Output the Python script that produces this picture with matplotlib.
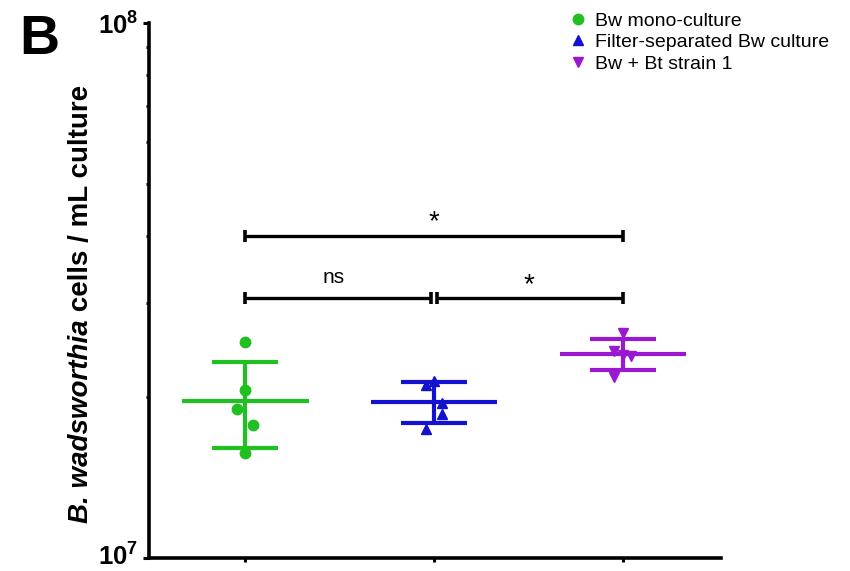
import matplotlib
matplotlib.use("Agg")
import matplotlib.pyplot as plt
from matplotlib.lines import Line2D
from matplotlib.ticker import NullFormatter
from matplotlib.transforms import ScaledTranslation
import numpy as np

plt.rcParams['font.family'] = ['Liberation Sans', 'DejaVu Sans']
plt.rcParams['mathtext.fontset'] = 'custom'
plt.rcParams['mathtext.rm'] = 'Liberation Sans'
plt.rcParams['mathtext.bf'] = 'Liberation Sans:bold'

# ---- data (cells / mL) ----
groups = ["Bw mono-culture", "Filter-separated Bw culture", "Bw + Bt strain 1"]
mono = [2.53e7, 2.06e7, 1.90e7, 1.77e7, 1.57e7]
filtered = [2.11e7, 2.14e7, 1.95e7, 1.86e7, 1.74e7]
cocult = [2.63e7, 2.44e7, 2.40e7, 2.39e7, 2.18e7]
# horizontal scatter of replicate points around each group position
mono_jit = [0.0, 0.0, -0.042, 0.042, 0.0]
filtered_jit = [-0.044, 0.0, 0.044, 0.044, -0.044]
cocult_jit = [0.0, -0.045, 0.0, 0.045, -0.045]

# significance brackets: (left group, right group, height, label)
brackets = [(1, 3, 4.0e7, "*"), (1, 2, 3.06e7, "ns"), (2, 3, 3.06e7, "*")]

colors = ["#1FC01F", "#1212D0", "#9A18D2"]
markers = ["o", "^", "v"]

W, H = 850, 571
fig = plt.figure(figsize=(W / 100, H / 100), dpi=100)
ax = fig.add_axes([149 / W, 1 - 558 / H, (721 - 149) / W, (558 - 23) / H])

series = [mono, filtered, cocult]
jitters = [mono_jit, filtered_jit, cocult_jit]
for i, (vals, jit, c, m) in enumerate(zip(series, jitters, colors, markers)):
    pos = i + 1
    vals = np.asarray(vals)
    mean = vals.mean()
    sd = vals.std(ddof=1)
    ax.hlines(mean, pos - 0.335, pos + 0.335, color=c, lw=3, zorder=2)
    ax.errorbar(pos, mean, yerr=sd, fmt='none', ecolor=c, elinewidth=3,
                capsize=23.5, capthick=3, zorder=2)
    ax.plot(pos + np.asarray(jit), vals, linestyle='none', marker=m,
            color=c, ms=7.5, zorder=3)

# brackets; neighbouring brackets at equal height leave a small gap
gap = 0.014
for x1, x2, y, lab in brackets:
    left, right = x1, x2
    for o1, o2, oy, _ in brackets:
        if oy == y and (o1, o2) != (x1, x2):
            if o2 == x1:
                left = x1 + gap
            if o1 == x2:
                right = x2 - gap
    ax.plot([left, right], [y, y], color='black', lw=2.4,
            marker='|', ms=9, mew=2.6, solid_capstyle='butt', zorder=2)
    if lab == "*":
        ax.annotate(lab, ((x1 + x2) / 2, y), xytext=(0, 4.5), textcoords='offset points',
                    ha='center', va='baseline', fontsize=20)
    else:
        ax.annotate(lab, ((x1 + x2) / 2, y), xytext=(-4, 11), textcoords='offset points',
                    ha='center', va='baseline', fontsize=15)

ax.set_yscale('log')
ax.set_ylim(1e7, 1e8)
ax.set_xlim(0.49, 3.52)

ax.set_yticks([1e7, 1e8])
ax.set_yticklabels([r'$\mathbf{10^{7}}$', r'$\mathbf{10^{8}}$'], fontsize=18.5)
ax.yaxis.set_minor_formatter(NullFormatter())
ax.set_xticks([1, 2, 3])
ax.set_xticklabels([])
ax.tick_params(axis='y', which='major', direction='out', length=4, width=2.2, pad=4)
ax.tick_params(axis='y', which='minor', direction='out', length=2.5, width=2)
ax.tick_params(axis='x', which='major', direction='out', length=3, width=2.2)
ax.tick_params(axis='x', which='minor', length=0)

# lift the bottom decade label a little so it stays inside the figure
bottom_lab = ax.get_yticklabels()[0]
bottom_lab.set_transform(bottom_lab.get_transform()
                         + ScaledTranslation(0, 3 / 100, fig.dpi_scale_trans))

for s in ['top', 'right']:
    ax.spines[s].set_visible(False)
for s in ['left', 'bottom']:
    ax.spines[s].set_linewidth(2.6)

# y-axis title: italic species name followed by upright units
renderer = fig.canvas.get_renderer()
lab_x, lab_y0 = 88 / W, 1 - 523 / H
t1 = fig.text(lab_x, lab_y0, 'B. wadsworthia', rotation=90, rotation_mode='anchor',
              ha='left', va='baseline', fontsize=20, fontweight='bold', style='italic')
h1 = t1.get_window_extent(renderer).height
fig.text(lab_x, lab_y0 + h1 / (fig.dpi * fig.get_figheight()), ' cells / mL culture',
         rotation=90, rotation_mode='anchor', ha='left', va='baseline',
         fontsize=20, fontweight='bold')

handles = [Line2D([], [], linestyle='none', marker=m, color=c, ms=7.5)
           for m, c in zip(markers, colors)]
fig.legend(handles, groups, loc='upper left', bbox_to_anchor=(570 / W, 1 - 12 / H),
           frameon=False, fontsize=14, handlelength=0.8, handletextpad=0.5,
           labelspacing=0.2, borderpad=0, borderaxespad=0)

fig.text(19 / W, 1 - 54 / H, 'B', fontsize=40, fontweight='bold', va='baseline', ha='left')

fig.savefig('out.png', dpi=100)
